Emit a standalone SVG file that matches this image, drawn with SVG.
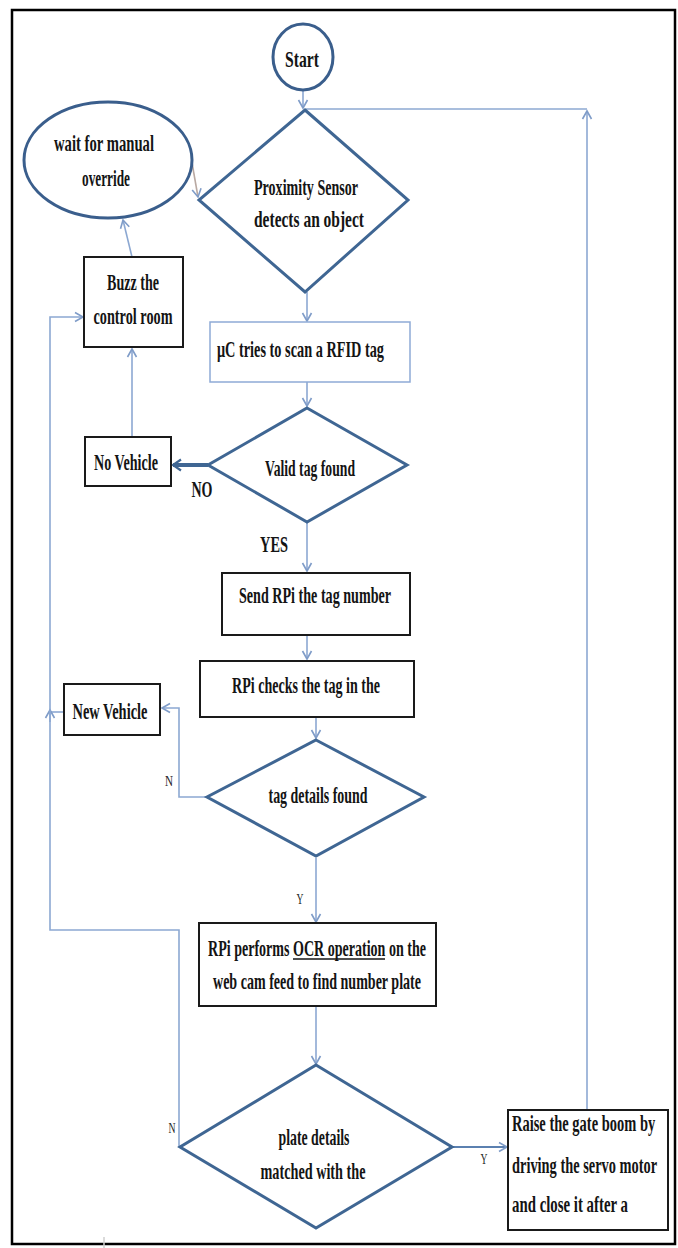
<svg xmlns="http://www.w3.org/2000/svg" width="678" height="1248" viewBox="0 0 678 1248">
<style>
.t{font-family:"Liberation Serif","Times New Roman",serif;font-weight:bold;font-size:23px;fill:#141414}
.s{font-family:"Liberation Serif","Times New Roman",serif;font-size:15px;fill:#222}
.dia{fill:none;stroke:#3f6693;stroke-width:3;stroke-linejoin:miter}
.box{fill:#fff;stroke:#1a1a1a;stroke-width:2}
.oval{fill:#fff;stroke:#3a5e8c;stroke-width:3}
.c{fill:none;stroke:#8ca8d2;stroke-width:1.6}
</style>
<defs>
<marker id="a" markerWidth="12" markerHeight="12" refX="10" refY="6" orient="auto" markerUnits="userSpaceOnUse">
<path d="M2,1.5 L10,6 L2,10.5" fill="none" stroke="#7f9cc8" stroke-width="1.6"/>
</marker>
<marker id="ab" markerWidth="14" markerHeight="14" refX="11" refY="7" orient="auto" markerUnits="userSpaceOnUse">
<path d="M3,1.5 L11,7 L3,12.5" fill="none" stroke="#3f6693" stroke-width="2.2"/>
</marker>
</defs>
<rect x="12" y="10" width="663" height="1234" fill="#fff" stroke="#000" stroke-width="2.5"/>

<g id="connectors">
<path class="c" d="M303,90 L303,108" marker-end="url(#a)"/>
<path class="c" d="M587,1110 L587,111" marker-end="url(#a)"/>
<path class="c" d="M587,109 L306,109"/>
<path d="M191,157 L198,197" fill="none" stroke="#b9a9a2" stroke-width="1.6" marker-end="url(#a)"/>
<path class="c" d="M132,257 L123,220" marker-end="url(#a)"/>
<path class="c" d="M307,292 L307,321" marker-end="url(#a)"/>
<path class="c" d="M307,382 L307,406" marker-end="url(#a)"/>
<path d="M208,465 L173,465" fill="none" stroke="#3f6693" stroke-width="4" marker-end="url(#ab)"/>
<path class="c" d="M132,437 L132,349" marker-end="url(#a)"/>
<path class="c" d="M307,523 L307,571" marker-end="url(#a)"/>
<path class="c" d="M307,635 L307,659" marker-end="url(#a)"/>
<path class="c" d="M316,717 L316,738" marker-end="url(#a)"/>
<path class="c" d="M207,797 L179,797 L179,708 L162,708" marker-end="url(#a)"/>
<path class="c" d="M63,712 L50,712"/>
<path class="c" d="M50,722 L50,710" marker-end="url(#a)"/>
<path class="c" d="M179,1147 L179,930 L50,930 L50,317 L83,317" marker-end="url(#a)"/>
<path class="c" d="M316,858 L316,922" marker-end="url(#a)"/>
<path class="c" d="M316,1006 L316,1064" marker-end="url(#a)"/>
<path d="M452,1147 L507,1147" fill="none" stroke="#5b80b0" stroke-width="2" marker-end="url(#a)"/>
<path d="M104,1237 L104,1248" stroke="#cfcfcf" stroke-width="1.5"/>
</g>

<g id="start">
<ellipse class="oval" cx="303" cy="57" rx="30" ry="33"/>
<text class="t" x="302" y="67" text-anchor="middle" textLength="34" lengthAdjust="spacingAndGlyphs">Start</text>
</g>

<g id="proximity">
<path class="dia" d="M305,110 L408,200 L305,292 L199,200 Z"/>
<text class="t" x="306" y="195" text-anchor="middle" textLength="104" lengthAdjust="spacingAndGlyphs">Proximity  Sensor</text>
<text class="t" x="309" y="227" text-anchor="middle" textLength="110" lengthAdjust="spacingAndGlyphs">detects an object</text>
</g>

<g id="wait">
<ellipse class="oval" cx="108" cy="160" rx="84" ry="58"/>
<text class="t" x="104" y="151" text-anchor="middle" textLength="100" lengthAdjust="spacingAndGlyphs">wait for manual</text>
<text class="t" x="106" y="186" text-anchor="middle" textLength="48" lengthAdjust="spacingAndGlyphs">override</text>
</g>

<g id="buzz">
<rect class="box" x="84" y="257" width="99" height="90"/>
<text class="t" x="133" y="290" text-anchor="middle" textLength="52" lengthAdjust="spacingAndGlyphs">Buzz the</text>
<text class="t" x="133" y="324" text-anchor="middle" textLength="79" lengthAdjust="spacingAndGlyphs">control room</text>
</g>

<g id="scan">
<rect x="210" y="322" width="200" height="60" fill="#fff" stroke="#8eaad6" stroke-width="1.5"/>
<text class="t" x="217" y="357" textLength="167" lengthAdjust="spacingAndGlyphs">μC tries to scan a RFID tag</text>
</g>

<g id="valid">
<path class="dia" d="M307,408 L407,465 L307,522 L208,465 Z"/>
<text class="t" x="310" y="476" text-anchor="middle" textLength="90" lengthAdjust="spacingAndGlyphs">Valid tag found</text>
<text class="t" x="202" y="497" text-anchor="middle" textLength="21" lengthAdjust="spacingAndGlyphs">NO</text>
<text class="t" x="274" y="552" text-anchor="middle" textLength="28" lengthAdjust="spacingAndGlyphs">YES</text>
</g>

<g id="novehicle">
<rect class="box" x="85" y="437" width="86" height="49"/>
<text class="t" x="126" y="470" text-anchor="middle" textLength="64" lengthAdjust="spacingAndGlyphs">No Vehicle</text>
</g>

<g id="send">
<rect class="box" x="222" y="573" width="188" height="62"/>
<text class="t" x="315" y="603" text-anchor="middle" textLength="152" lengthAdjust="spacingAndGlyphs">Send RPi the tag number</text>
</g>

<g id="checks">
<rect class="box" x="200" y="661" width="214" height="56"/>
<text class="t" x="306" y="693" text-anchor="middle" textLength="148" lengthAdjust="spacingAndGlyphs">RPi checks the tag in the</text>
</g>

<g id="newvehicle">
<rect class="box" x="64" y="684" width="96" height="51"/>
<text class="t" x="110" y="719" text-anchor="middle" textLength="75" lengthAdjust="spacingAndGlyphs">New Vehicle</text>
</g>

<g id="tagdetails">
<path class="dia" d="M316,740 L424,797 L316,856 L207,797 Z"/>
<text class="t" x="318" y="803" text-anchor="middle" textLength="99" lengthAdjust="spacingAndGlyphs">tag details found</text>
<text class="s" x="169" y="786" text-anchor="middle" textLength="8" lengthAdjust="spacingAndGlyphs">N</text>
<text class="s" x="300" y="904" text-anchor="middle" textLength="7" lengthAdjust="spacingAndGlyphs">Y</text>
</g>

<g id="ocr">
<rect class="box" x="199" y="923" width="237" height="83"/>
<text class="t" x="317" y="956" text-anchor="middle" textLength="218" lengthAdjust="spacingAndGlyphs">RPi performs OCR operation on the</text>
<path d="M293,959 L385,959" stroke="#141414" stroke-width="1.5"/>
<text class="t" x="317" y="989" text-anchor="middle" textLength="208" lengthAdjust="spacingAndGlyphs">web cam feed to find number plate</text>
</g>

<g id="plate">
<path class="dia" d="M316,1065 L452,1147 L316,1228 L180,1147 Z"/>
<text class="t" x="314" y="1145" text-anchor="middle" textLength="71" lengthAdjust="spacingAndGlyphs">plate details</text>
<text class="t" x="313" y="1179" text-anchor="middle" textLength="105" lengthAdjust="spacingAndGlyphs">matched with the</text>
<text class="s" x="172" y="1133" text-anchor="middle" textLength="7" lengthAdjust="spacingAndGlyphs">N</text>
<text class="s" x="484" y="1164" text-anchor="middle" textLength="7" lengthAdjust="spacingAndGlyphs">Y</text>
</g>

<g id="raise">
<rect class="box" x="508" y="1110" width="160" height="120"/>
<text class="t" transform="translate(512,1131) scale(0.62,1)" x="0" y="0" textLength="231" lengthAdjust="spacingAndGlyphs">Raise the gate boom by</text>
<text class="t" transform="translate(512,1173) scale(0.62,1)" x="0" y="0" textLength="234" lengthAdjust="spacingAndGlyphs">driving the servo motor</text>
<text class="t" transform="translate(512,1212) scale(0.62,1)" x="0" y="0" textLength="187" lengthAdjust="spacingAndGlyphs">and close it after a</text>
</g>
</svg>
